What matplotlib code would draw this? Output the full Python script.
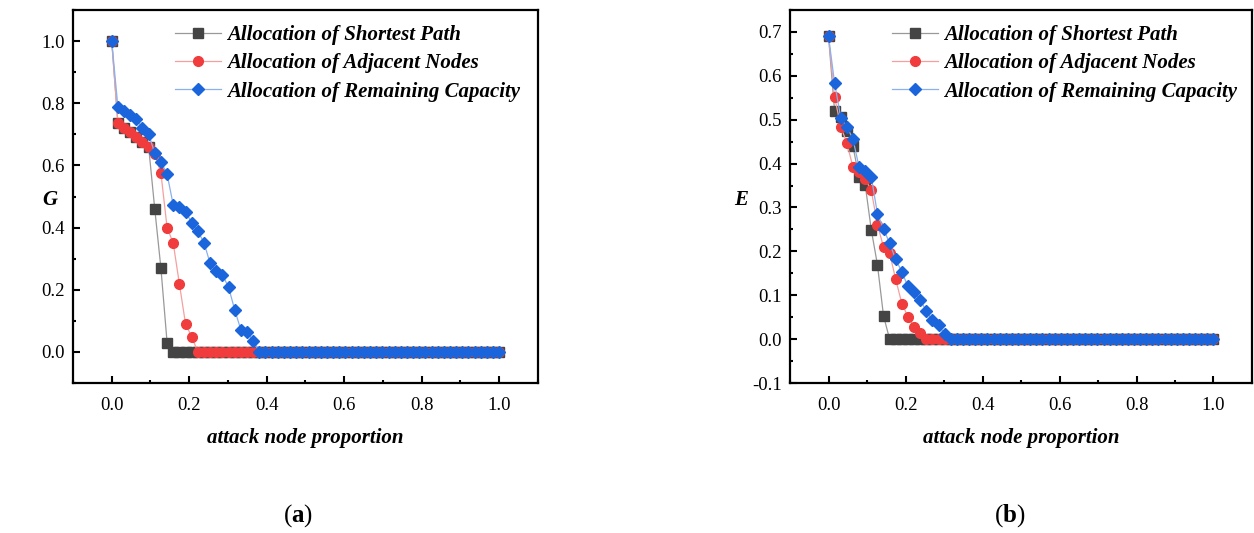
import numpy as np
import matplotlib.pyplot as plt
from matplotlib.ticker import MultipleLocator

# attack node proportion: 64 steps from 0 to 1
x = np.arange(64) / 63

# G (left panel) - nonzero heads, rest are 0
g_shortest = [1.0, 0.737, 0.722, 0.708, 0.692, 0.676, 0.660, 0.459, 0.269, 0.03]
g_adjacent = [1.0, 0.737, 0.722, 0.708, 0.692, 0.676, 0.660, 0.637, 0.575, 0.40,
              0.35, 0.219, 0.09, 0.049]
g_capacity = [1.0, 0.789, 0.776, 0.762, 0.748, 0.722, 0.701, 0.639, 0.612, 0.572,
              0.473, 0.465, 0.451, 0.416, 0.389, 0.351, 0.285, 0.261, 0.248, 0.208,
              0.135, 0.071, 0.065, 0.036]

# E (right panel)
e_shortest = [0.69, 0.519, 0.507, 0.475, 0.439, 0.369, 0.352, 0.249, 0.170, 0.053]
e_adjacent = [0.69, 0.552, 0.484, 0.447, 0.392, 0.38, 0.365, 0.339, 0.261, 0.210,
              0.196, 0.136, 0.081, 0.051, 0.028, 0.015]
e_capacity = [0.69, 0.583, 0.505, 0.484, 0.456, 0.392, 0.383, 0.370, 0.286, 0.252,
              0.218, 0.182, 0.153, 0.120, 0.108, 0.090, 0.064, 0.043, 0.033, 0.011]


def pad(vals):
    return np.array(vals + [0.0] * (len(x) - len(vals)))


labels = ['Allocation of Shortest Path', 'Allocation of Adjacent Nodes',
          'Allocation of Remaining Capacity']

serif = ['Liberation Serif', 'DejaVu Serif']
plt.rcParams['font.family'] = serif
plt.rcParams['axes.unicode_minus'] = False
plt.rcParams['mathtext.fontset'] = 'custom'
plt.rcParams['mathtext.bf'] = 'Liberation Serif:bold'

fig = plt.figure(figsize=(12.54, 5.33), dpi=100)
ax1 = fig.add_axes([0.0582, 0.2814, 0.3708, 0.6998])
ax2 = fig.add_axes([0.630, 0.2814, 0.3684, 0.6998])

styles = [
    dict(color='#999999', marker='s', ms=6.5, mfc='#444444', mec='#444444'),
    dict(color='#f5a0a0', marker='o', ms=7, mfc='#f03c3c', mec='#f03c3c'),
    dict(color='#8ab0ee', marker='D', ms=6.5, mfc='#1a64dc', mec='#1a64dc'),
]

panels = [
    (ax1, [g_shortest, g_adjacent, g_capacity], 'G', (-0.1, 1.1), 0.2, 0.1, 0.219, -0.05),
    (ax2, [e_shortest, e_adjacent, e_capacity], 'E', (-0.1, 0.75), 0.1, 0.05, 0.221, -0.105),
]

for ax, series, ylab, ylim, ymaj, ymin, legx, ylx in panels:
    for vals, st, lab in zip(series, styles, labels):
        ax.plot(x, pad(vals), lw=0.9, label=lab, **st)
    ax.set_xlim(-0.1, 1.1)
    ax.set_ylim(*ylim)
    ax.xaxis.set_major_locator(MultipleLocator(0.2))
    ax.xaxis.set_minor_locator(MultipleLocator(0.1))
    ax.yaxis.set_major_locator(MultipleLocator(ymaj))
    ax.yaxis.set_minor_locator(MultipleLocator(ymin))
    ax.tick_params(which='both', direction='in', width=1.5, labelsize=13.5)
    ax.tick_params(which='major', length=5)
    ax.tick_params(which='minor', length=2.5)
    ax.tick_params(axis='x', pad=10)
    ax.tick_params(axis='y', pad=6)
    for sp in ax.spines.values():
        sp.set_linewidth(1.6)
    ax.set_xlabel('attack node proportion', fontsize=15, fontweight='bold',
                  fontstyle='italic')
    ax.xaxis.set_label_coords(0.5, -0.12)
    ax.set_ylabel(ylab, fontsize=15, fontweight='bold', fontstyle='italic',
                  rotation=0, va='center')
    ax.yaxis.set_label_coords(ylx, 0.49)
    ax.legend(loc='upper left', bbox_to_anchor=(legx, 0.96), frameon=False,
              borderpad=0, borderaxespad=0, handlelength=2.2, handletextpad=0.3,
              labelspacing=0.4, prop=dict(family=serif, weight='bold',
                                          style='italic', size=15))

fig.text(0.2376, 0.032, r'($\mathbf{a}$)', fontsize=18, ha='center', va='center')
fig.text(0.8054, 0.032, r'($\mathbf{b}$)', fontsize=18, ha='center', va='center')

fig.savefig('out.png', dpi=100)
